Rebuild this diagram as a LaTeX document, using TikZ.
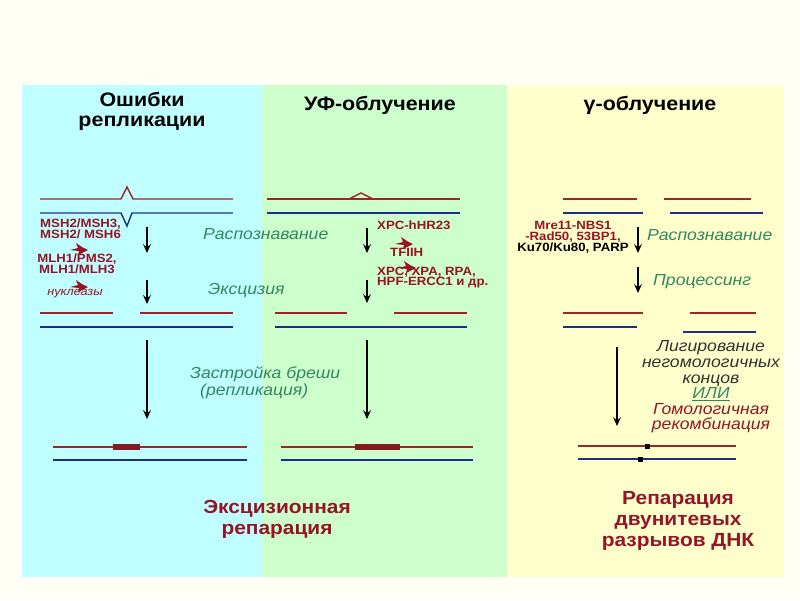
\documentclass[tikz,border=0pt]{standalone}
\usepackage{fontspec}
\setmainfont{Liberation Sans}[FakeStretch=1.1]
\usetikzlibrary{arrows,arrows.meta}
\definecolor{paper}{RGB}{255,255,245}
\definecolor{cyanbox}{RGB}{192,255,255}
\definecolor{greenbox}{RGB}{204,255,204}
\definecolor{yellowbox}{RGB}{255,255,204}
\definecolor{dnared}{RGB}{160,35,40}
\definecolor{dnablue}{RGB}{30,45,140}
\definecolor{labred}{RGB}{150,20,40}
\definecolor{labgreen}{RGB}{50,135,95}
\definecolor{labgray}{RGB}{50,50,50}
\tikzset{>={Stealth[length=9pt,width=8pt,inset=3.5pt]},
	redstrand/.style={draw=dnared,line width=1.4pt},
	bluestrand/.style={draw=dnablue,line width=1.4pt},
	flow/.style={->,line width=1.2pt,black},
	title/.style={font=\fontsize{19.5}{20}\selectfont\bfseries,align=center,inner sep=0pt},
	protein/.style={text=labred,font=\fontsize{12}{10.8}\selectfont\bfseries,inner sep=0pt},
	stagelabel/.style={text=labgreen,font=\fontsize{16}{16.5}\selectfont\itshape,inner sep=0pt},
	result/.style={text=labred,font=\fontsize{19}{21}\selectfont\bfseries,align=center,inner sep=0pt}}
\newcommand{\redburst}[1]{\fill[labred,shift={#1}] (9,1) -- (-1,6) -- (0,2) -- (-9,1) -- (-1,-1) -- (-3,-6) -- (3,-2) -- cycle;}
\begin{document}
\begin{tikzpicture}[x=1pt,y=-1pt]
	\useasboundingbox (0,0) rectangle (800,600);
	\fill[paper] (0,0) rectangle (800,600);
	\fill[cyanbox] (22,85) rectangle (262,577);
	\fill[greenbox] (262,85) rectangle (507,577);
	\fill[yellowbox] (507,85) rectangle (784,577);
	% titles
	\node (T1) at (142,111) [title] {Ошибки\\репликации};
	\node (T2) at (380,105) [title] {УФ-облучение};
	\node (T3) at (650,105) [title] {γ-облучение};
	% replication errors
	\draw[redstrand] (40,199) -- (121,199) -- (127,187) -- (133,199) -- (233,199);
	\draw[bluestrand] (40,213) -- (121,213) -- (127,226) -- (132,213) -- (233,213);
	\draw[redstrand] (40,313) -- (113,313);
	\draw[redstrand] (140,313) -- (233,313);
	\draw[bluestrand] (40,327) -- (233,327);
	\draw[redstrand] (53,447) -- (247,447);
	\fill[dnared!80!black] (113,444) rectangle (140,450);
	\draw[bluestrand] (53,460) -- (247,460);
	% UV
	\draw[redstrand] (267,199) -- (460,199);
	\draw[redstrand] (349,199) -- (361,193) -- (373,199);
	\draw[bluestrand] (267,213) -- (460,213);
	\draw[redstrand] (275,313) -- (347,313);
	\draw[redstrand] (394,313) -- (467,313);
	\draw[bluestrand] (275,327) -- (467,327);
	\draw[redstrand] (281,447) -- (473,447);
	\fill[dnared!80!black] (355,444) rectangle (400,450);
	\draw[bluestrand] (281,460) -- (473,460);
	% gamma
	\draw[redstrand] (563,199) -- (637,199);
	\draw[redstrand] (664,199) -- (751,199);
	\draw[bluestrand] (563,213) -- (643,213);
	\draw[bluestrand] (670,213) -- (763,213);
	\draw[redstrand] (563,313) -- (643,313);
	\draw[redstrand] (690,313) -- (756,313);
	\draw[bluestrand] (563,327) -- (637,327);
	\draw[bluestrand] (683,332) -- (756,332);
	\draw[redstrand] (578,446) -- (736,446);
	\draw[bluestrand] (578,459) -- (736,459);
	\fill[black] (644.5,443.5) rectangle (649.5,448.5);
	\fill[black] (637.5,456.5) rectangle (642.5,461.5);
	% arrows
	\coordinate (A1) at (147,227);
	\coordinate (A2) at (147,253);
	\coordinate (A3) at (147,280);
	\coordinate (A4) at (147,304);
	\coordinate (A5) at (147,340);
	\coordinate (A6) at (147,419);
	\coordinate (B1) at (367,228);
	\coordinate (B2) at (367,253);
	\coordinate (B3) at (367,280);
	\coordinate (B4) at (367,303);
	\coordinate (B5) at (367,340);
	\coordinate (B6) at (367,419);
	\coordinate (C1) at (638,227);
	\coordinate (C2) at (638,253);
	\coordinate (C3) at (638,267);
	\coordinate (C4) at (638,293);
	\coordinate (C5) at (617,347);
	\coordinate (C6) at (617,426);
	\draw[flow] (A1) -- (A2);
	\draw[flow] (A3) -- (A4);
	\draw[flow] (A5) -- (A6);
	\draw[flow] (B1) -- (B2);
	\draw[flow] (B3) -- (B4);
	\draw[flow] (B5) -- (B6);
	\draw[flow] (C1) -- (C2);
	\draw[flow] (C3) -- (C4);
	\draw[flow] (C5) -- (C6);
	% enzymes
	\node (msh) at (40,228.5) [protein,anchor=west,align=left] {MSH2/MSH3,\\MSH2/ MSH6};
	\node (mlh) at (77,264) [protein,align=center] {MLH1/PMS2,\\MLH1/MLH3};
	\node (nuc) at (75,294) [text=labred,font=\fontsize{11.5}{12}\selectfont\itshape,inner sep=0pt] {нуклеазы};
	\redburst{(79,249)}
	\redburst{(79,286)}
	\node (xpc) at (377,225) [protein,anchor=west] {XPC-hHR23};
	\node (tf) at (390,252) [protein,anchor=west] {TFIIH};
	\node (xpa) at (377,277.5) [protein,anchor=west,align=left] {XPC, XPA, RPA,\\HPF-ERCC1 и др.};
	\redburst{(404,243)}
	\redburst{(407,267)}
	\node (mre) at (573,237.5) [protein,align=center,font=\fontsize{12}{10.5}\selectfont\bfseries] {Mre11-NBS1\\-Rad50, 53BP1,\\\textcolor{black}{Ku70/Ku80, PARP}};
	% stages
	\node (rec1) at (203,234) [stagelabel,anchor=west] {Распознавание};
	\node (exc1) at (208,291) [stagelabel,anchor=west] {Эксцизия};
	\node (fill1) at (190,382.5) [stagelabel,anchor=west,align=left] {Застройка бреши\\\hspace*{10pt}(репликация)};
	\node (rec3) at (647,235) [stagelabel,anchor=west] {Распознавание};
	\node (proc3) at (653,282) [stagelabel,anchor=west] {Процессинг};
	\node (lig3) at (711,387) [text=labgray,font=\fontsize{16}{15.6}\selectfont\itshape,align=center,inner sep=0pt]
	{Лигирование\\негомологичных\\концов\\\textcolor{labgreen}{\underline{ИЛИ}}\\\textcolor{labred}{Гомологичная}\\\textcolor{labred}{рекомбинация}};
	% results
	\node (res1) at (277,519) [result] {Эксцизионная\\репарация};
	\node (res3) at (678,521) [result] {Репарация\\двунитевых\\разрывов ДНК};
\end{tikzpicture}
\end{document}
